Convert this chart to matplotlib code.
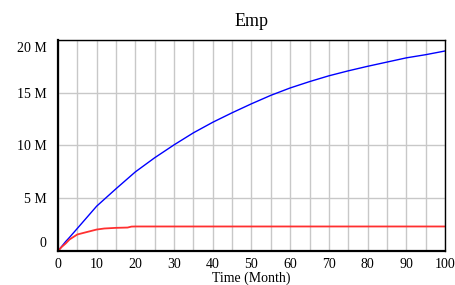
import matplotlib
matplotlib.use("Agg")
import matplotlib.pyplot as plt
import matplotlib.transforms as mtransforms

# data (months, persons)
t_blue = [0, 1, 2, 3, 5, 10, 15, 20, 25, 30, 35, 40, 45, 50, 55, 60, 65, 70, 75, 80, 85, 90, 95, 100]
emp_blue = [0, 0.45e6, 0.9e6, 1.3e6, 2.14e6, 4.25e6, 5.9e6, 7.5e6, 8.84e6, 10.06e6, 11.2e6, 12.2e6,
            13.1e6, 13.95e6, 14.75e6, 15.45e6, 16.05e6, 16.6e6, 17.07e6, 17.5e6, 17.9e6, 18.3e6, 18.6e6, 18.95e6]

t_red = [0, 1, 2, 3, 5, 7, 10, 12, 15, 18, 19, 20, 100]
emp_red = [0, 0.4e6, 0.72e6, 1.1e6, 1.57e6, 1.76e6, 2.04e6, 2.14e6, 2.2e6, 2.23e6, 2.32e6, 2.33e6, 2.33e6]

xticks = list(range(0, 101, 10))
yticks = [0, 5e6, 10e6, 15e6, 20e6]
ylabels = ["0", "5 M", "10 M", "15 M", "20 M"]

plt.rcParams['font.family'] = ['Liberation Serif', 'DejaVu Serif']

fig = plt.figure(figsize=(4.56, 2.85), dpi=100)
ax = fig.add_axes([0.127, 0.119, 0.849, 0.741])

ax.plot(t_blue, emp_blue, color="#0000ff", linewidth=1.0)
ax.plot(t_red, emp_red, color="#ff3030", linewidth=1.3)

ax.set_xlim(0, 100)
ax.set_ylim(0, 20e6)
ax.set_xticks(xticks)
ax.set_xticks(range(0, 101, 5), minor=True)
ax.set_yticks(yticks)
ax.set_yticklabels(ylabels)
ax.tick_params(which="both", length=0, labelsize=10)
ax.tick_params(axis="x", pad=5)
ax.tick_params(axis="y", pad=8)

ax.grid(True, which="both", color="#c8c8c8", linewidth=1.0)
ax.set_axisbelow(True)

# vensim keeps the end labels inside the axis
labs = ax.get_yticklabels()
labs[0].set_transform(labs[0].get_transform() + mtransforms.ScaledTranslation(0, 9 / 100, fig.dpi_scale_trans))
labs[-1].set_transform(labs[-1].get_transform() + mtransforms.ScaledTranslation(0, -7 / 100, fig.dpi_scale_trans))

for side in ["left", "bottom"]:
    ax.spines[side].set_linewidth(1.6)
for side in ["top", "right"]:
    ax.spines[side].set_linewidth(1.0)

ax.set_title("Emp", fontsize=13, pad=10)
ax.set_xlabel("Time (Month)", fontsize=10, labelpad=0)

fig.savefig("out.png", dpi=100)
